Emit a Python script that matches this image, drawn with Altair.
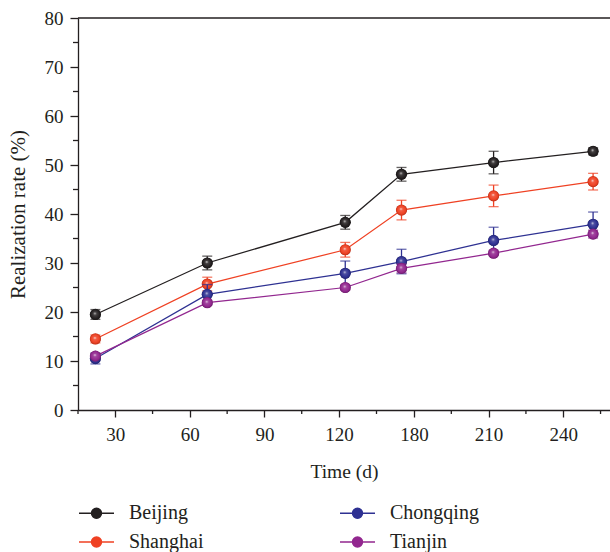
import altair as alt
import pandas as pd

# ---------------- data ----------------
series = ["Beijing", "Shanghai", "Chongqing", "Tianjin"]
series_colors = ["#231f20", "#ef4123", "#2e3192", "#92278f"]

time_d = [22, 67, 125, 170, 212, 252]

beijing = [19.5, 30.0, 38.3, 48.1, 50.5, 52.8]
beijing_err = [1.0, 1.4, 1.4, 1.4, 2.3, 0.7]
shanghai = [14.5, 25.7, 32.7, 40.8, 43.7, 46.6]
shanghai_err = [0.8, 1.4, 1.5, 2.0, 2.2, 1.7]
chongqing = [10.5, 23.6, 27.9, 30.3, 34.6, 37.9]
chongqing_err = [1.1, 2.0, 2.5, 2.5, 2.7, 2.5]
tianjin = [11.0, 21.9, 25.0, 28.9, 32.0, 35.9]
tianjin_err = [0.5, 0.5, 0.5, 0.9, 0.5, 0.8]

x_ticks = [30, 60, 90, 120, 180, 210, 240]
x_minor = [15, 45, 75, 105, 150, 195, 225, 255]
y_ticks = [0, 10, 20, 30, 40, 50, 60, 70, 80]
y_minor = [5, 15, 25, 35, 45, 55, 65, 75]

values = {"Beijing": beijing, "Shanghai": shanghai, "Chongqing": chongqing, "Tianjin": tianjin}
errors = {"Beijing": beijing_err, "Shanghai": shanghai_err, "Chongqing": chongqing_err, "Tianjin": tianjin_err}

rows = []
for s in series:
    for t, v, e in zip(time_d, values[s], errors[s]):
        rows.append({"series": s, "time": t, "rate": v, "lo": v - e, "hi": v + e})
df = pd.DataFrame(rows)

# ---------------- layout / style ----------------
W, H = 532, 392
FONT = "Liberation Serif"
INK = "#231f20"
color_map = dict(zip(series, series_colors))

# broken (piecewise) time axis as in the original figure
x_scale = alt.Scale(domain=[15, 120, 180, 258.8], range=[0, 261, 336, W], nice=False, zero=False)
y_scale = alt.Scale(domain=[0, 80], nice=False, zero=False)

x_enc = alt.X("time:Q", scale=x_scale,
              axis=alt.Axis(values=x_ticks, tickSize=7, labelPadding=8, title="Time (d)",
                            titlePadding=18, titleFontSize=19.5, labelFlush=False))
y_enc = alt.Y("rate:Q", scale=y_scale,
              axis=alt.Axis(values=y_ticks, tickSize=8, labelPadding=7,
                            title="Realization rate (%)", titlePadding=16, titleFontSize=21))


def shade(hex_color, f):
    h = hex_color.lstrip("#")
    r, g, b = (int(h[i:i + 2], 16) for i in (0, 2, 4))
    if f >= 0:
        r, g, b = (int(c + (255 - c) * f) for c in (r, g, b))
    else:
        r, g, b = (int(c * (1 + f)) for c in (r, g, b))
    return "#{:02x}{:02x}{:02x}".format(r, g, b)


base = alt.Chart(df)

rr = 0.286
legend_path = f"M-1,0H-{rr}M{rr},0H1M-{rr},0A{rr},{rr},0,1,1,{rr},0A{rr},{rr},0,1,1,-{rr},0Z"

leg = alt.Legend(
    title=None, orient="none", legendX=0, legendY=476.5, columns=2,
    columnPadding=133, rowPadding=0, padding=0,
    symbolType=legend_path, symbolSize=1225, symbolStrokeWidth=1.4,
    labelFont=FONT, labelFontSize=20, labelColor=INK, labelOffset=14,
)
leg_range = [color_map[s] for s in series]

lines = base.mark_line(strokeWidth=1.25).encode(
    x=x_enc,
    y=y_enc,
    stroke=alt.Stroke("series:N", scale=alt.Scale(domain=series, range=leg_range), legend=leg),
)

flat_pts = base.mark_point(filled=True, size=110, opacity=1, strokeWidth=0).encode(
    x="time:Q",
    y="rate:Q",
    fill=alt.Fill("series:N", scale=alt.Scale(domain=series, range=leg_range), legend=leg),
)

layers = [lines, flat_pts]
for s in series:
    c = color_map[s]
    sub = base.transform_filter(alt.datum.series == s)
    bars = sub.mark_rule(strokeWidth=1.3, color=c).encode(x="time:Q", y="lo:Q", y2="hi:Q")
    cap_lo = sub.mark_tick(orient="horizontal", size=10, thickness=1.3, color=c).encode(x="time:Q", y="lo:Q")
    cap_hi = sub.mark_tick(orient="horizontal", size=10, thickness=1.3, color=c).encode(x="time:Q", y="hi:Q")
    grad = alt.RadialGradient(
        gradient="radial",
        stops=[
            alt.GradientStop(offset=0, color=shade(c, 0.85)),
            alt.GradientStop(offset=0.25, color=shade(c, 0.15)),
            alt.GradientStop(offset=0.7, color=c),
            alt.GradientStop(offset=1, color=shade(c, -0.35)),
        ],
        x1=0.45, y1=0.4, r1=0, x2=0.5, y2=0.5, r2=0.55,
    )
    pts = sub.mark_circle(size=125, fill=grad, opacity=1).encode(x="time:Q", y="rate:Q")
    layers += [bars, cap_lo, cap_hi, pts]

# minor ticks and top frame line
minor_x = alt.Chart(pd.DataFrame({"t": x_minor})).mark_rule(color=INK, strokeWidth=1.3).encode(
    x="t:Q", y=alt.value(H), y2=alt.value(H + 4))
minor_y = alt.Chart(pd.DataFrame({"v": y_minor})).mark_rule(color=INK, strokeWidth=1.3).encode(
    y="v:Q", x=alt.value(-5), x2=alt.value(0))
top_line = alt.Chart(pd.DataFrame({"v": [80]})).mark_rule(color=INK, strokeWidth=1.3).encode(
    y="v:Q", x=alt.value(0), x2=alt.value(W))

chart = alt.layer(*layers, minor_x, minor_y, top_line).properties(
    width=W, height=H,
    autosize=alt.AutoSizeParams(type="none"),
    padding={"left": 78, "top": 18, "right": 0, "bottom": 142},
).configure_view(strokeWidth=0).configure_axis(
    grid=False, domainColor=INK, domainWidth=1.3, tickColor=INK, tickWidth=1.3,
    labelFont=FONT, labelFontSize=19, labelColor=INK,
    titleFont=FONT, titleFontWeight="normal", titleColor=INK,
)

chart.save("out.html", embed_options={"renderer": "svg", "actions": False})
